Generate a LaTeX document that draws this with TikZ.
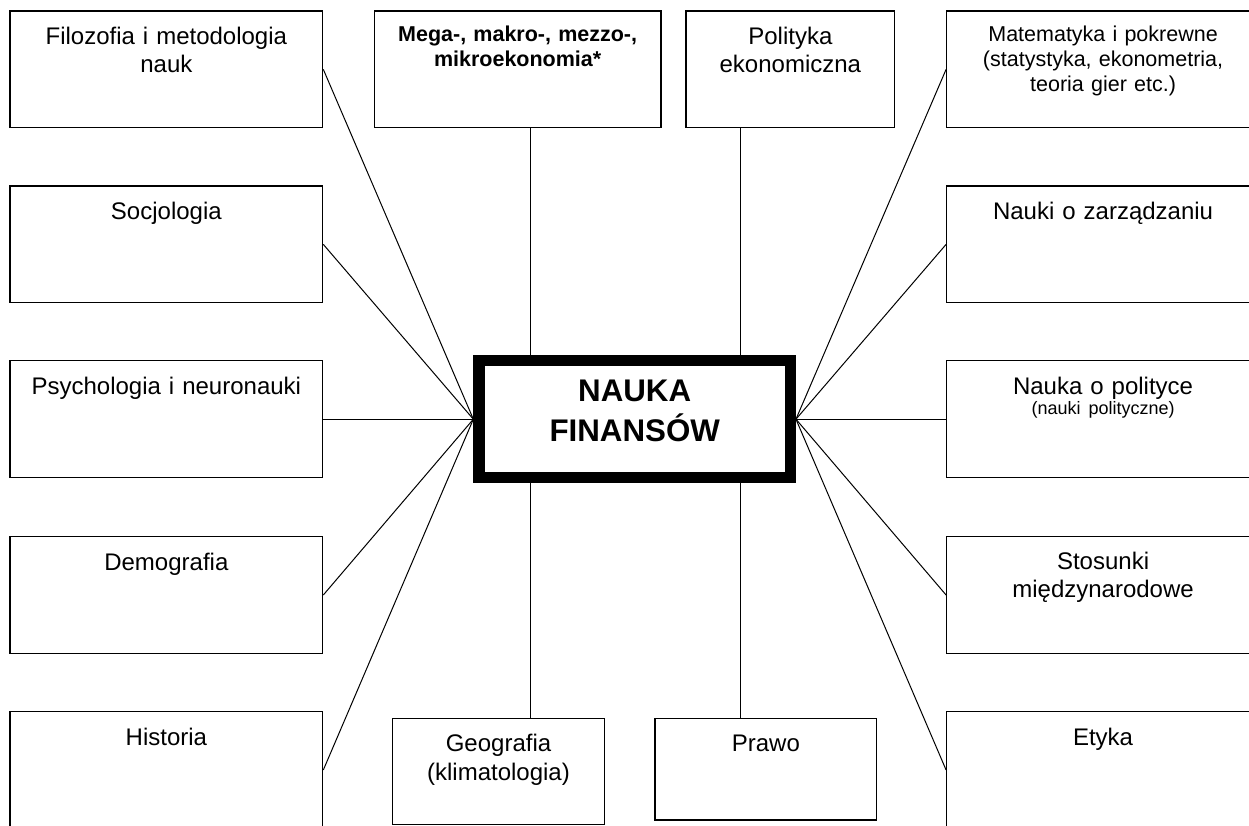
\documentclass[tikz,border=0pt]{standalone}
\usepackage{fontspec}
\setmainfont{Liberation Sans}
\newcommand\FsMain{\fontsize{24}{28.3}\selectfont}
\newcommand\FsMid{\fontsize{21.5}{24.7}\selectfont}
\newcommand\FsSmall{\fontsize{18}{20.7}\selectfont}
\newcommand\FsBig{\fontsize{31.3}{40}\selectfont\bfseries}
\begin{document}
\begin{tikzpicture}[x=1pt,y=-1pt,
  box/.style={draw, line width=1.2pt, rectangle, inner sep=0pt},
  sidebox/.style={box, minimum width=312.7pt, minimum height=116.7pt},
  lbl/.style={inner sep=0pt, anchor=base, align=center, text width=290pt},
  link/.style={line width=1pt}]
\useasboundingbox (0,0) rectangle (1249,825);
\clip (0,0) rectangle (1249,825);
\fill[white] (0,0) rectangle (1249,825);

% central box
\node[draw, line width=11.3pt, minimum width=311.3pt, minimum height=117pt, inner sep=0pt] (nf) at (634.65,419.2) {};
\node[lbl, font=\FsBig] (tnf) at (634.7,401.7) {NAUKA\\FINANSÓW};

% left column
\node[sidebox] (filo) at (166.35,69.35) {};
\node[sidebox] (soc)  at (166.35,244.35) {};
\node[sidebox] (psy)  at (166.35,419.2) {};
\node[sidebox] (dem)  at (166.35,595) {};
\node[sidebox] (his)  at (166.35,770) {};
\node[lbl, font=\FsMain] (tfilo) at (166.35,44.3) {Filozofia i metodologia\\nauk};
\node[lbl, font=\FsMain] (tsoc)  at (166.35,219.3) {Socjologia};
\node[lbl, font=\FsMain] (tpsy)  at (166.35,394) {Psychologia i neuronauki};
\node[lbl, font=\FsMain] (tdem)  at (166.35,570) {Demografia};
\node[lbl, font=\FsMain] (this)  at (166.35,745) {Historia};

% right column
\node[sidebox] (mat) at (1103.05,69.35) {};
\node[sidebox] (zar) at (1103.05,244.35) {};
\node[sidebox] (pol) at (1103.05,419.2) {};
\node[sidebox] (sto) at (1103.05,595) {};
\node[sidebox] (ety) at (1103.05,770) {};
\node[lbl, font=\FsMid] (tmat) at (1103.05,41.7) {Matematyka i pokrewne\\(statystyka, ekonometria,\\teoria gier etc.)};
\node[lbl, font=\FsMain] (tzar) at (1103.05,219.3) {Nauki o zarządzaniu};
\node[lbl, font=\FsMain] (tpol) at (1103.05,394) {Nauka o polityce\\[-7.6pt]{\FsSmall (nauki polityczne)}};
\node[lbl, font=\FsMain] (tsto) at (1103.05,569.3) {Stosunki\\międzynarodowe};
\node[lbl, font=\FsMain] (tety) at (1103.05,745) {Etyka};

% top
\node[box, minimum width=286.7pt, minimum height=116.7pt] (meg) at (517.65,69.35) {};
\node[box, minimum width=208.7pt, minimum height=116.7pt] (pek) at (790.35,69.35) {};
\node[lbl, font={\FsMid\bfseries}] (tmeg) at (517.65,41.7) {Mega-, makro-, mezzo-,\\mikroekonomia*};
\node[lbl, font=\FsMain] (tpek) at (790.35,44.3) {Polityka\\ekonomiczna};

% bottom
\node[box, minimum width=211.6pt, minimum height=106pt] (geo) at (498.5,771.3) {};
\node[box, minimum width=221.7pt, minimum height=101.7pt] (pra) at (765.85,769.15) {};
\node[lbl, font=\FsMain] (tgeo) at (498.5,751.7) {Geografia\\(klimatologia)};
\node[lbl, font=\FsMain] (tpra) at (765.85,751.7) {Prawo};

% connectors
\coordinate (xa) at (530,0);
\coordinate (xb) at (740,0);
\draw[link] (filo.east) -- (nf.west);
\draw[link] (soc.east) -- (nf.west);
\draw[link] (psy.east) -- (nf.west);
\draw[link] (dem.east) -- (nf.west);
\draw[link] (his.east) -- (nf.west);
\draw[link] (mat.west) -- (nf.east);
\draw[link] (zar.west) -- (nf.east);
\draw[link] (pol.west) -- (nf.east);
\draw[link] (sto.west) -- (nf.east);
\draw[link] (ety.west) -- (nf.east);
\draw[link] (meg.south -| xa) -- (nf.north -| xa);
\draw[link] (pek.south -| xb) -- (nf.north -| xb);
\draw[link] (nf.south -| xa) -- (geo.north -| xa);
\draw[link] (nf.south -| xb) -- (pra.north -| xb);
\end{tikzpicture}
\end{document}
